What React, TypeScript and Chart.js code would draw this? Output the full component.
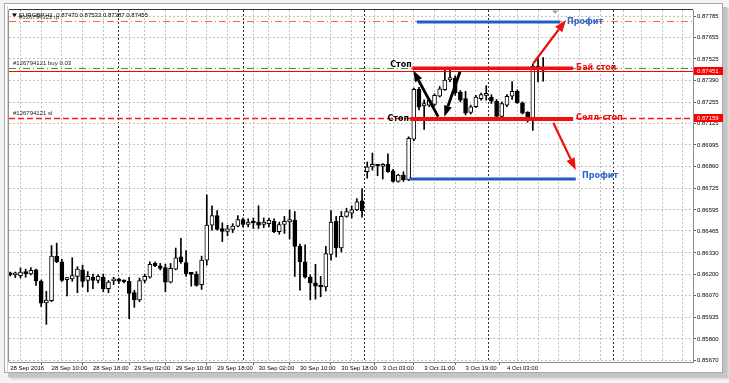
import React, { useEffect, useRef } from 'react';
import { Chart, registerables } from 'chart.js';

Chart.register(...registerables);

// ---- Candles (EURGBP H1), bar index 0 = 28 Sep 02:00 ----
const OPEN = [
  0.86205, 0.86195, 0.86190, 0.86215, 0.86200, 0.86225, 0.86157, 0.86022, 0.86035, 0.86310,
  0.86275, 0.86165, 0.86170, 0.86185, 0.86225, 0.86160, 0.86180, 0.86160, 0.86180, 0.86110,
  0.86158, 0.86162, 0.86157, 0.86155, 0.86085, 0.86040, 0.86160, 0.86180, 0.86265, 0.86250,
  0.86240, 0.86150, 0.86230, 0.86305, 0.86270, 0.86205, 0.86200, 0.86135, 0.86285, 0.86500,
  0.86560, 0.86480, 0.86462, 0.86475, 0.86495, 0.86535, 0.86505, 0.86520, 0.86520, 0.86505,
  0.86510, 0.86525, 0.86460, 0.86505, 0.86520, 0.86530, 0.86370, 0.86275, 0.86180, 0.86145,
  0.86128, 0.86120, 0.86320, 0.86525, 0.86360, 0.86555, 0.86575, 0.86595, 0.86650, 0.86830,
  0.86860, 0.86870, 0.86862, 0.86875, 0.86835, 0.86770, 0.86810, 0.86780, 0.87030, 0.87338,
  0.87235, 0.87240, 0.87245, 0.87295, 0.87335, 0.87395, 0.87405, 0.87320, 0.87280, 0.87195,
  0.87230, 0.87280, 0.87300, 0.87290, 0.87265, 0.87170, 0.87240, 0.87295, 0.87325, 0.87255,
  0.87195, 0.87160, 0.87480, 0.87470,
];
const HIGH = [
  0.86212, 0.86212, 0.86237, 0.86230, 0.86240, 0.86230, 0.86163, 0.86093, 0.86375, 0.86390,
  0.86290, 0.86178, 0.86300, 0.86245, 0.86255, 0.86215, 0.86200, 0.86195, 0.86200, 0.86160,
  0.86180, 0.86175, 0.86162, 0.86180, 0.86100, 0.86175, 0.86200, 0.86275, 0.86275, 0.86265,
  0.86260, 0.86265, 0.86360, 0.86420, 0.86345, 0.86210, 0.86215, 0.86310, 0.86687, 0.86620,
  0.86590, 0.86515, 0.86500, 0.86510, 0.86560, 0.86545, 0.86540, 0.86545, 0.86620, 0.86545,
  0.86545, 0.86540, 0.86520, 0.86555, 0.86595, 0.86585, 0.86385, 0.86380, 0.86195, 0.86260,
  0.86185, 0.86370, 0.86590, 0.86555, 0.86585, 0.86605, 0.86620, 0.86665, 0.86725, 0.86890,
  0.86945, 0.86875, 0.86880, 0.86940, 0.86845, 0.86815, 0.86830, 0.87045, 0.87345, 0.87350,
  0.87272, 0.87280, 0.87310, 0.87355, 0.87455, 0.87455, 0.87420, 0.87330, 0.87325, 0.87240,
  0.87300, 0.87315, 0.87360, 0.87305, 0.87275, 0.87260, 0.87305, 0.87385, 0.87335, 0.87260,
  0.87200, 0.87495, 0.87530, 0.87533,
];
const LOW = [
  0.86188, 0.86178, 0.86175, 0.86180, 0.86195, 0.86130, 0.85999, 0.85890, 0.86030, 0.86270,
  0.86155, 0.86065, 0.86155, 0.86085, 0.86120, 0.86090, 0.86110, 0.86145, 0.86090, 0.86085,
  0.86135, 0.86140, 0.86145, 0.85925, 0.85995, 0.86030, 0.86145, 0.86175, 0.86245, 0.86225,
  0.86090, 0.86145, 0.86225, 0.86265, 0.86185, 0.86125, 0.86125, 0.86105, 0.86255, 0.86470,
  0.86470, 0.86400, 0.86435, 0.86455, 0.86490, 0.86490, 0.86490, 0.86480, 0.86480, 0.86485,
  0.86490, 0.86455, 0.86445, 0.86450, 0.86415, 0.86185, 0.86100, 0.86175, 0.86040, 0.86045,
  0.86060, 0.86095, 0.86285, 0.86305, 0.86335, 0.86550, 0.86545, 0.86590, 0.86550, 0.86790,
  0.86840, 0.86805, 0.86785, 0.86825, 0.86765, 0.86765, 0.86770, 0.86775, 0.87020, 0.87210,
  0.87091, 0.87230, 0.87235, 0.87290, 0.87330, 0.87385, 0.87300, 0.87260, 0.87180, 0.87185,
  0.87225, 0.87270, 0.87270, 0.87250, 0.87160, 0.87160, 0.87230, 0.87275, 0.87250, 0.87185,
  0.87135, 0.87085, 0.87385, 0.87387,
];
const CLOSE = [
  0.86195, 0.86200, 0.86212, 0.86200, 0.86222, 0.86157, 0.86020, 0.86040, 0.86310, 0.86275,
  0.86160, 0.86172, 0.86190, 0.86230, 0.86155, 0.86185, 0.86160, 0.86185, 0.86110, 0.86150,
  0.86165, 0.86156, 0.86152, 0.86080, 0.86040, 0.86160, 0.86185, 0.86260, 0.86250, 0.86235,
  0.86150, 0.86235, 0.86300, 0.86275, 0.86200, 0.86198, 0.86130, 0.86285, 0.86502, 0.86560,
  0.86475, 0.86462, 0.86478, 0.86495, 0.86535, 0.86505, 0.86520, 0.86514, 0.86500, 0.86520,
  0.86530, 0.86460, 0.86505, 0.86525, 0.86535, 0.86370, 0.86275, 0.86180, 0.86145, 0.86125,
  0.86120, 0.86325, 0.86520, 0.86360, 0.86555, 0.86585, 0.86595, 0.86645, 0.86590, 0.86860,
  0.86875, 0.86865, 0.86875, 0.86830, 0.86770, 0.86810, 0.86780, 0.87035, 0.87338, 0.87228,
  0.87250, 0.87270, 0.87300, 0.87340, 0.87395, 0.87410, 0.87315, 0.87270, 0.87190, 0.87230,
  0.87290, 0.87305, 0.87310, 0.87265, 0.87170, 0.87250, 0.87295, 0.87325, 0.87255, 0.87190,
  0.87150, 0.87480, 0.87465, 0.87455,
];

// ---- Axes ----
const X_MIN = -0.22;
const X_MAX = 131.95;
const Y_MIN = 0.85658;
const Y_MAX = 0.87826;
const X_LABEL_INDEX = [0, 8, 16, 24, 32, 40, 48, 56, 64, 72, 80, 88, 96];
const X_LABELS = [
  '28 Sep 2016', '28 Sep 10:00', '28 Sep 18:00', '29 Sep 02:00', '29 Sep 10:00', '29 Sep 18:00',
  '30 Sep 02:00', '30 Sep 10:00', '30 Sep 18:00', '3 Oct 03:00', '3 Oct 11:00', '3 Oct 19:00', '4 Oct 03:00',
];
const DAY_SEPARATORS = [22, 46, 69, 93, 117];
const GRID_STEP = 4;
const Y_TICKS = [
  0.87785, 0.87655, 0.87525, 0.8739, 0.87255, 0.87125, 0.86995, 0.8686, 0.86725,
  0.86595, 0.86465, 0.8633, 0.862, 0.8607, 0.85935, 0.858, 0.8567,
];

// ---- Orders / drawn objects ----
const HEADER = 'EURGBP,H1  0.87470 0.87533 0.87387 0.87455';
const ORDER_ID = '#126794121';
const TP_LEVEL = 0.87759;
const BUY_LEVEL = 0.87467;
const BUY_STOP_LINE = 0.87451;
const SELL_STOP_LINE = 0.87159;
const BUY_STOP_SEG = { from: 77.7, to: 108.8, price: 0.87467 };
const SELL_STOP_SEG = { from: 77.3, to: 108.8, price: 0.87155 };
const PROFIT_UP_SEG = { from: 78.6, to: 106.3, price: 0.87752 };
const PROFIT_DN_SEG = { from: 77.1, to: 109.3, price: 0.86785 };
const RED_ARROW_UP = { x1: 101.1, y1: 0.87498, x2: 107.4, y2: 0.87765 };
const RED_ARROW_DN = { x1: 104.96, y1: 0.87132, x2: 109.3, y2: 0.86841 };
const BLACK_ARROW_1 = { x1: 82.7, y1: 0.87169, x2: 77.9, y2: 0.87453 };
const BLACK_ARROW_2 = { x1: 86.93, y1: 0.87446, x2: 83.9, y2: 0.87169 };
const TEXTS = [
  { text: 'Стоп', x: 77.6, price: 0.87487, color: '#000000', align: 'right' },
  { text: 'Стоп', x: 77.07, price: 0.87155, color: '#000000', align: 'right' },
  { text: 'Бай стоп', x: 109.35, price: 0.87472, color: '#ee1111', align: 'left' },
  { text: 'Селл-стоп', x: 109.35, price: 0.87161, color: '#ee1111', align: 'left' },
  { text: 'Профит', x: 107.6, price: 0.87755, color: '#2a66cc', align: 'left' },
  { text: 'Профит', x: 110.5, price: 0.86804, color: '#2a66cc', align: 'left' },
];
const SHIFT_MARK_INDEX = 105.3;

const tickValues = (() => {
  const s = new Set<number>([...X_LABEL_INDEX, ...DAY_SEPARATORS]);
  for (let v = GRID_STEP; v < X_MAX; v += GRID_STEP) s.add(v);
  return Array.from(s).sort((a, b) => a - b);
})();

const framePlugin = {
  id: 'frame',
  beforeDraw(chart: any) {
    const { ctx, width, height } = chart;
    ctx.save();
    ctx.fillStyle = '#f3f3f3';
    ctx.fillRect(0, 0, width, height);
    const shadow = ['#e6e6e6', '#dadada', '#cfcfcf', '#c4c4c4'];
    shadow.forEach((c: string, k: number) => {
      ctx.fillStyle = c;
      ctx.fillRect(8 + (3 - k), 7 + (3 - k), 719, 370);
    });
    ctx.fillStyle = '#ffffff';
    ctx.fillRect(4, 3, 719, 370);
    ctx.strokeStyle = '#a9a9a9';
    ctx.lineWidth = 1;
    ctx.strokeRect(4.5, 3.5, 718, 369);
    ctx.strokeStyle = '#d4d4d4';
    ctx.beginPath();
    ctx.moveTo(7.5, 6);
    ctx.lineTo(7.5, 372);
    ctx.stroke();
    ctx.restore();
  },
  afterDraw(chart: any) {
    const { ctx, chartArea: a } = chart;
    ctx.save();
    ctx.strokeStyle = '#333333';
    ctx.lineWidth = 1;
    ctx.beginPath();
    ctx.moveTo(a.left, a.top - 0.5);
    ctx.lineTo(a.right, a.top - 0.5);
    ctx.stroke();
    ctx.strokeStyle = '#909090';
    ctx.beginPath();
    ctx.moveTo(a.left - 0.5, a.top);
    ctx.lineTo(a.left - 0.5, a.bottom);
    ctx.stroke();
    // header
    ctx.fillStyle = '#000';
    ctx.beginPath();
    ctx.moveTo(12, 13.5);
    ctx.lineTo(17, 13.5);
    ctx.lineTo(14.5, 17);
    ctx.closePath();
    ctx.fill();
    ctx.font = '6px "Liberation Sans"';
    ctx.textBaseline = 'middle';
    ctx.textAlign = 'left';
    ctx.fillStyle = '#444';
    ctx.fillText(ORDER_ID + ' tp', 19, 17);
    ctx.fillStyle = '#000';
    ctx.fillText(HEADER, 19, 15.5);
    // shift marker
    const sx = chart.scales.x.getPixelForValue(SHIFT_MARK_INDEX);
    ctx.fillStyle = '#a0a0a0';
    ctx.beginPath();
    ctx.moveTo(sx - 3, a.top + 0.5);
    ctx.lineTo(sx + 3, a.top + 0.5);
    ctx.lineTo(sx, a.top + 4);
    ctx.closePath();
    ctx.fill();
    ctx.restore();
  },
};

const annotationPlugin = {
  id: 'annotations',
  afterDatasetsDraw(chart: any) {
    const { ctx, chartArea: a, scales } = chart;
    const px = (v: number) => scales.x.getPixelForValue(v);
    const py = (v: number) => scales.y.getPixelForValue(v);
    ctx.save();
    ctx.beginPath();
    ctx.rect(a.left, a.top, a.right - a.left, a.bottom - a.top);
    ctx.clip();

    const hline = (p: number, color: string, w: number, dash: number[]) => {
      const yy = Math.round(py(p)) + 0.5;
      ctx.strokeStyle = color;
      ctx.lineWidth = w;
      ctx.setLineDash(dash);
      ctx.beginPath();
      ctx.moveTo(a.left, yy);
      ctx.lineTo(a.right, yy);
      ctx.stroke();
      ctx.setLineDash([]);
    };
    hline(TP_LEVEL, '#ff6633', 1, [7, 3, 1, 3]);
    hline(BUY_LEVEL, '#33a033', 1, [7, 3, 1, 3]);
    hline(BUY_STOP_LINE, '#ff0000', 1, []);
    hline(SELL_STOP_LINE, '#ff1a1a', 1.3, [6, 3]);

    ctx.font = '6px "Liberation Sans"';
    ctx.textAlign = 'left';
    ctx.textBaseline = 'bottom';
    ctx.fillStyle = '#222';
    ctx.fillText(ORDER_ID + ' buy 0.03', a.left + 4, py(BUY_LEVEL) - 1.5);
    ctx.fillText(ORDER_ID + ' sl', a.left + 4, py(SELL_STOP_LINE) - 2);

    const seg = (s: { from: number; to: number; price: number }, color: string, w: number) => {
      ctx.strokeStyle = color;
      ctx.lineWidth = w;
      ctx.beginPath();
      ctx.moveTo(px(s.from), py(s.price));
      ctx.lineTo(px(s.to), py(s.price));
      ctx.stroke();
    };
    seg(BUY_STOP_SEG, '#f01010', 3.5);
    seg(SELL_STOP_SEG, '#f01010', 4);
    seg(PROFIT_UP_SEG, '#1f5ec4', 3);
    seg(PROFIT_DN_SEG, '#1f5ec4', 3);

    const arrow = (ar: { x1: number; y1: number; x2: number; y2: number }, color: string, w: number, hl: number, hw: number) => {
      const x1 = px(ar.x1), y1 = py(ar.y1), x2 = px(ar.x2), y2 = py(ar.y2);
      const ang = Math.atan2(y2 - y1, x2 - x1);
      const bx = x2 - hl * Math.cos(ang), by = y2 - hl * Math.sin(ang);
      ctx.strokeStyle = color;
      ctx.lineWidth = w;
      ctx.beginPath();
      ctx.moveTo(x1, y1);
      ctx.lineTo(bx, by);
      ctx.stroke();
      ctx.fillStyle = color;
      ctx.beginPath();
      ctx.moveTo(x2, y2);
      ctx.lineTo(bx + (hw / 2) * Math.sin(ang), by - (hw / 2) * Math.cos(ang));
      ctx.lineTo(bx - (hw / 2) * Math.sin(ang), by + (hw / 2) * Math.cos(ang));
      ctx.closePath();
      ctx.fill();
    };
    arrow(RED_ARROW_UP, '#ee1111', 2.2, 12, 9);
    arrow(RED_ARROW_DN, '#ee1111', 2.2, 12, 9);
    arrow(BLACK_ARROW_1, '#000000', 2.8, 11, 8);
    arrow(BLACK_ARROW_2, '#000000', 2.8, 11, 8);

    ctx.font = 'bold 8px "DejaVu Sans"';
    ctx.textBaseline = 'middle';
    TEXTS.forEach((t) => {
      ctx.fillStyle = t.color;
      ctx.textAlign = t.align as CanvasTextAlign;
      ctx.fillText(t.text, px(t.x), py(t.price));
    });
    ctx.restore();

    // price boxes on the axis
    ctx.save();
    ctx.font = '6px "Liberation Sans"';
    ctx.textBaseline = 'middle';
    ctx.textAlign = 'left';
    [BUY_STOP_LINE, SELL_STOP_LINE].forEach((p) => {
      const yy = Math.round(py(p));
      ctx.fillStyle = '#ff0000';
      ctx.fillRect(a.right + 1, yy - 4, 29, 8);
      ctx.fillStyle = '#ffffff';
      ctx.fillText(p.toFixed(5), a.right + 4, yy + 0.5);
    });
    ctx.restore();
  },
};

export default function App() {
  const ref = useRef<HTMLCanvasElement>(null);
  useEffect(() => {
    if (!ref.current) return;
    const wicks = OPEN.map((_, i) => ({ x: i, y: [LOW[i], HIGH[i]] }));
    const bodies = OPEN.map((o, i) => ({ x: i, y: [o, CLOSE[i]] }));
    const bodyColors = OPEN.map((o, i) => (CLOSE[i] >= o ? '#ffffff' : '#000000'));
    const chart = new Chart(ref.current, {
      type: 'bar',
      data: {
        datasets: [
          {
            data: wicks as any,
            backgroundColor: '#000000',
            borderWidth: 0,
            barThickness: 1,
            grouped: false,
            order: 2,
          } as any,
          {
            data: bodies as any,
            backgroundColor: bodyColors,
            borderColor: '#000000',
            borderWidth: 1,
            borderSkipped: false,
            barThickness: 4,
            minBarLength: 2,
            grouped: false,
            order: 1,
          } as any,
        ],
      },
      options: {
        animation: false,
        responsive: false,
        maintainAspectRatio: false,
        devicePixelRatio: 1,
        layout: { padding: { left: 9, top: 10, right: 6, bottom: 8 } },
        plugins: { legend: { display: false }, tooltip: { enabled: false } },
        scales: {
          x: {
            type: 'linear',
            min: X_MIN,
            max: X_MAX,
            offset: false,
            afterBuildTicks: (scale: any) => {
              scale.ticks = tickValues.map((v) => ({ value: v }));
            },
            afterFit: (scale: any) => {
              scale.height = 13;
            },
            grid: {
              color: (c: any) => {
                const v = c.tick ? c.tick.value : -1;
                if (DAY_SEPARATORS.includes(v)) return '#2a2a2a';
                if (v === 0) return 'rgba(0,0,0,0)';
                return '#c2c2c2';
              },
              tickColor: (c: any) => {
                const v = c.tick ? c.tick.value : -1;
                return X_LABEL_INDEX.includes(v) && v !== 0 ? '#606060' : 'rgba(0,0,0,0)';
              },
              tickLength: 3,
              lineWidth: 1,
            },
            border: { display: true, color: '#8a8a8a', dash: [2, 2] },
            ticks: {
              autoSkip: false,
              maxRotation: 0,
              minRotation: 0,
              align: 'start',
              padding: 0,
              color: '#000000',
              font: { family: 'Liberation Sans', size: 6 },
              callback: (v: any) => {
                const k = X_LABEL_INDEX.indexOf(Number(v));
                return k >= 0 ? X_LABELS[k] : '';
              },
            },
          } as any,
          y: {
            type: 'linear',
            position: 'right',
            min: Y_MIN,
            max: Y_MAX,
            afterBuildTicks: (scale: any) => {
              scale.ticks = Y_TICKS.map((v) => ({ value: v }));
            },
            afterFit: (scale: any) => {
              scale.width = 30;
            },
            grid: { color: '#c2c2c2', tickColor: '#606060', tickLength: 3, lineWidth: 1 },
            border: { display: true, color: '#8a8a8a', dash: [2, 2] },
            ticks: {
              padding: 1,
              color: '#000000',
              font: { family: 'Liberation Sans', size: 6 },
              callback: (v: any) => Number(v).toFixed(5),
            },
          } as any,
        },
      },
      plugins: [framePlugin, annotationPlugin],
    });
    return () => chart.destroy();
  }, []);
  return (
    <div style={{ position: 'fixed', left: 0, top: 0, width: 729, height: 383 }}>
      <canvas ref={ref} width={729} height={383} style={{ display: 'block', width: 729, height: 383 }} />
    </div>
  );
}
